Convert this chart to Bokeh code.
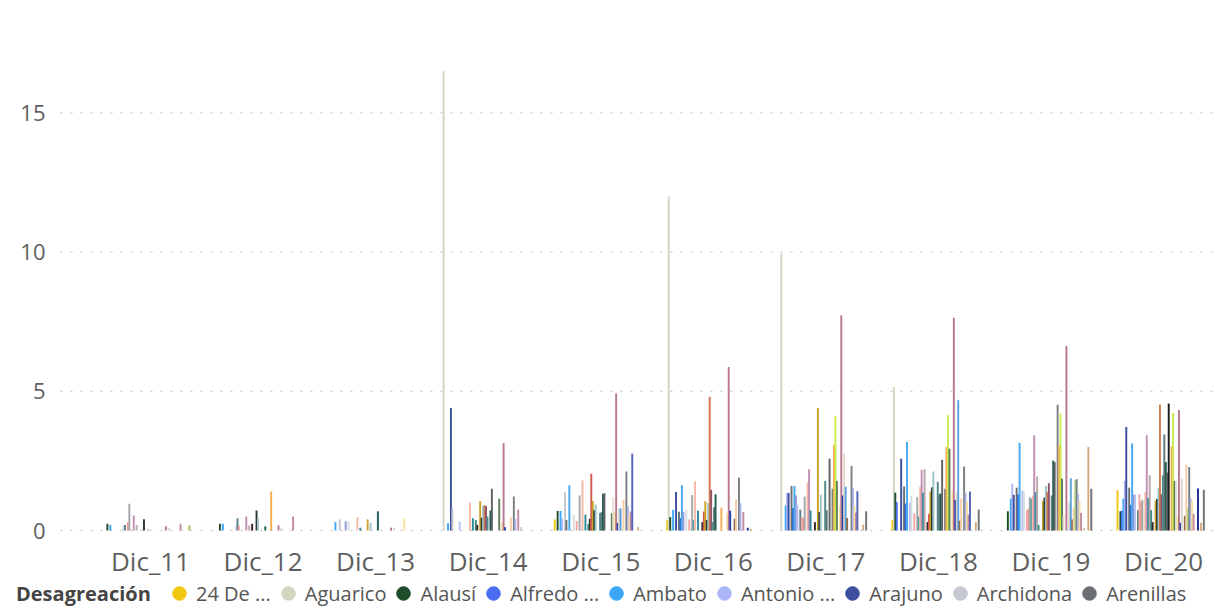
from bokeh.plotting import figure
from bokeh.models import Range1d, Legend, LegendItem, ColumnDataSource
from bokeh.core.properties import value
from bokeh.embed import file_html
from bokeh.resources import INLINE

years = ["Dic_11", "Dic_12", "Dic_13", "Dic_14", "Dic_15",
         "Dic_16", "Dic_17", "Dic_18", "Dic_19", "Dic_20"]

y_ticks = [0, 5, 10, 15]
y_tick_labels = ["0", "5", "10", "15"]

series = [
    "24 De Mayo", "Aguarico", "Alausí", "Alfredo Baquerizo Moreno", "Ambato",
    "Antonio Ante", "Arajuno", "Archidona", "Arenillas", "Atacames",
    "Atahualpa", "Azogues", "Baba", "Babahoyo", "Balao",
    "Balsas", "Balzar", "Baños de Agua Santa", "Biblián", "Bolívar",
    "Buena Fe", "Calvas", "Caluma", "Camilo Ponce Enríquez", "Cañar",
    "Carlos Julio Arosemena Tola", "Cascales", "Catamayo", "Cayambe", "Celica",
    "Centinela del Cóndor", "Cevallos", "Chaguarpamba", "Chambo", "Chilla",
    "Chillanes", "Chimbo", "Chinchipe", "Chone", "Chordeleg",
    "Chunchi", "Colimes", "Colta", "Coronel Marcelino Maridueña", "Cotacachi",
    "Cuenca", "Cumandá", "Cuyabeno", "Daule", "Déleg",
    "Durán", "Echeandía", "El Carmen", "El Chaco", "El Empalme",
    "El Guabo", "El Pan", "El Pangui", "El Tambo", "El Triunfo",
]

legend_title = "Desagreación"
legend_labels = ["24 De ...", "Aguarico", "Alausí", "Alfredo ...", "Ambato",
                 "Antonio ...", "Arajuno", "Archidona", "Arenillas"]

colors = [
    "#F2C80F", "#D4D5BF", "#1E4D2B", "#4A6CF0", "#3BA8F7",
    "#AAB6F8", "#3C4E9C", "#C5C8D0", "#6B6E72", "#2F6FD8",
    "#45A9F2", "#8C9BD8", "#B5C1EE", "#D9DDE6", "#5A7F86",
    "#F4A7A2", "#F09A90", "#A5A7A9", "#4FA2A5", "#F7B9A5",
    "#C28FB3", "#2C8C9C", "#BCA6AC", "#3E8E82", "#3A2626",
    "#D25A50", "#C9A227", "#2B3B33", "#9DC5C9", "#D0784E",
    "#8F5468", "#4E8A8E", "#5E7A74", "#1F5E52", "#5F6264",
    "#1B1B1B", "#7E8183", "#F6AE4F", "#C8EC4E", "#5E7D5A",
    "#E9DDD2", "#F8E4A2", "#B87891", "#2840A8", "#E0D6CC",
    "#5AA3DC", "#8A6C4C", "#F6CFA8", "#B6D98A", "#7C7F81",
    "#A9B3EA", "#F7E0A0", "#C48BA0", "#5464B8", "#D9C9B4",
    "#1A2A9A", "#E7E0D8", "#D4A97E", "#A7B85A", "#6E7173",
]

dic_11 = [0, 0, 0.24, 0, 0.2, 0, 0, 0, 0, 0,
          0, 0, 0, 0.18, 0.2, 0, 0.3, 0.96, 0, 0,
          0.54, 0, 0.2, 0, 0, 0, 0, 0.4, 0, 0,
          0.03, 0, 0, 0, 0, 0, 0, 0, 0, 0,
          0, 0, 0.15, 0, 0.1, 0, 0, 0, 0, 0,
          0, 0, 0.24, 0, 0, 0, 0, 0, 0.18, 0]
dic_12 = [0, 0, 0.24, 0, 0.24, 0, 0, 0, 0, 0,
          0, 0, 0, 0.18, 0.44, 0.18, 0, 0, 0, 0,
          0.5, 0, 0.18, 0, 0.24, 0, 0, 0.72, 0.44, 0,
          0, 0, 0, 0.15, 0, 0, 0, 1.4, 0, 0,
          0, 0, 0.18, 0, 0.1, 0, 0, 0, 0, 0,
          0, 0, 0.5, 0, 0, 0, 0, 0, 0, 0]
dic_13 = [0, 0, 0, 0, 0.3, 0, 0, 0.4, 0, 0,
          0, 0.33, 0, 0.33, 0, 0, 0, 0, 0, 0.48,
          0, 0.1, 0, 0, 0, 0, 0.4, 0, 0.28, 0,
          0, 0, 0, 0.69, 0, 0, 0, 0, 0, 0,
          0, 0, 0.1, 0, 0.1, 0, 0, 0, 0, 0,
          0, 0.44, 0, 0, 0, 0, 0, 0, 0, 0]
dic_14 = [0, 16.5, 0, 0, 0.26, 0, 4.4, 0.8, 0, 0,
          0, 0, 0.32, 0, 0, 0, 0, 0, 0, 1.0,
          0, 0.44, 0, 0.38, 0.2, 0, 1.06, 0.46, 0.9, 0.9,
          0.88, 0.5, 0, 0.72, 1.5, 0, 0, 0, 0, 1.14,
          0, 0.3, 3.14, 0.12, 0, 0, 0, 0.47, 0, 1.22,
          0.42, 0, 0.75, 0, 0.12, 0, 0, 0, 0, 0]
dic_15 = [0.4, 0, 0.7, 0, 0.7, 0.42, 0, 1.39, 0.38, 0,
          1.62, 0, 0, 0.57, 0, 0.34, 0, 1.26, 0, 1.8,
          0, 0.57, 0, 0.24, 0.42, 2.04, 1.06, 0.73, 0.93, 0,
          0, 0.63, 0.66, 1.32, 1.34, 0, 0, 0, 0, 0.62,
          1.2, 0.66, 4.92, 0.27, 0.78, 0.8, 0, 1.1, 0, 2.12,
          0.87, 0.54, 0.68, 2.76, 0, 0, 0, 0.12, 0, 0]
dic_16 = [0.38, 12.0, 0.48, 0, 0.74, 0, 1.38, 0, 0.67, 0.45,
          1.63, 0.66, 0, 0.74, 0, 0.4, 0, 1.27, 0.38, 1.77,
          0, 0.71, 0, 0, 0.3, 0.68, 1.05, 0.38, 0.98, 4.8,
          1.46, 0.3, 0.83, 1.3, 0, 0, 0, 0.82, 0, 0,
          0, 0.63, 5.87, 0.71, 0, 0, 0.42, 1.12, 0, 1.9,
          0.98, 0, 0.67, 0, 0, 0.1, 0, 0.06, 0, 0]
dic_17 = [0, 9.95, 0, 0, 0.9, 1.35, 1.35, 0, 1.6, 0.81,
          1.6, 1.26, 0.93, 0, 0.75, 0.48, 0.45, 1.22, 0, 1.73,
          2.2, 0.72, 0, 0, 0.3, 0, 4.4, 0.66, 1.29, 0,
          0, 1.78, 0.73, 0, 2.58, 0, 1.5, 3.08, 4.1, 1.78,
          0, 0.9, 7.73, 1.26, 2.78, 1.57, 0.45, 0, 0, 2.32,
          1.52, 0.9, 0.64, 1.41, 0, 0, 0, 0.21, 0, 0.69]
dic_18 = [0.38, 5.15, 1.36, 1.02, 0, 0, 2.58, 0, 1.58, 0.97,
          3.18, 0, 1.0, 1.25, 0, 0.62, 0, 1.2, 0.5, 1.57,
          2.18, 1.36, 2.2, 0, 0.3, 0.6, 1.4, 1.55, 2.12, 0,
          0, 1.75, 1.3, 1.33, 2.54, 0, 1.5, 3.0, 4.14, 2.94,
          0, 1.43, 7.64, 1.1, 1.38, 4.68, 0.35, 1.15, 0, 2.3,
          1.35, 1.05, 0.57, 1.4, 0, 0, 0, 0.3, 0, 0.75]
dic_19 = [0, 0, 0.69, 0, 1.14, 1.68, 1.28, 0, 1.54, 1.3,
          3.15, 0, 1.43, 1.4, 0, 0.72, 0.78, 1.2, 1.14, 1.26,
          3.42, 1.38, 1.94, 0.2, 0, 0, 1.06, 1.18, 1.6, 1.38,
          1.7, 0, 1.26, 2.51, 2.46, 0, 4.52, 3.06, 4.2, 1.86,
          0.54, 0, 6.63, 0, 1.0, 1.88, 0.4, 0.82, 1.8, 1.84,
          1.31, 1.07, 0.63, 0, 0.1, 0, 0, 3.0, 0, 1.5]
dic_20 = [1.45, 0, 0.69, 0.71, 1.14, 1.78, 3.72, 0, 1.54, 0.92,
          3.13, 1.29, 1.29, 0, 0.73, 1.3, 1.04, 1.1, 0, 1.38,
          3.42, 1.17, 1.98, 0.73, 0.3, 0, 1.07, 1.14, 1.54, 4.52,
          1.3, 1.98, 3.45, 2.46, 2.08, 4.56, 0, 3.02, 4.22, 1.78,
          1.78, 0.5, 4.33, 0.28, 1.86, 0, 0.53, 2.38, 0.8, 2.28,
          1.16, 1.06, 0.6, 0, 0, 1.51, 0, 0.28, 0, 1.46]

year_values = [dic_11, dic_12, dic_13, dic_14, dic_15,
               dic_16, dic_17, dic_18, dic_19, dic_20]

# ---- layout (pixels of the 1215 x 610 canvas) ----
W, H = 1215, 610
PX_PER_CAT = 112.56          # horizontal pixels per category
FIRST_CAT_PX = 150           # centre of first category
PX_PER_UNIT = 27.84          # vertical pixels per value unit
ZERO_PX = 530                # y of value 0 (from top)
x_start = -FIRST_CAT_PX / PX_PER_CAT
x_end = x_start + W / PX_PER_CAT
y_end = ZERO_PX / PX_PER_UNIT
y_start = -(H - ZERO_PX) / PX_PER_UNIT

# cluster layout (category units)
group_start = -0.409
slot = 0.0130
bar_w = 0.0172

xs, tops, cols, names, yrs = [], [], [], [], []
for i, vals in enumerate(year_values):
    for j, v in enumerate(vals):
        if v > 0:
            xs.append(i + group_start + j * slot)
            tops.append(v)
            cols.append(colors[j])
            names.append(series[j])
            yrs.append(years[i])
src = ColumnDataSource(dict(x=xs, top=tops, color=cols, name=names, year=yrs))

FONT = "Open Sans"

p = figure(width=W, height=H, output_backend="svg", toolbar_location=None,
           x_range=Range1d(x_start, x_end), y_range=Range1d(y_start, y_end),
           x_axis_location=None, y_axis_location=None,
           min_border_left=0, min_border_right=0, min_border_top=0,
           min_border_bottom=0, background_fill_color="white",
           border_fill_color="white")
p.outline_line_color = None
for g in p.grid:
    g.visible = False

# dotted horizontal gridlines (start right of the value labels)
grid_x0 = x_start + 60 / PX_PER_CAT
p.segment(x0=[grid_x0] * len(y_ticks), x1=[x_end] * len(y_ticks),
          y0=y_ticks, y1=y_ticks, line_color="#BDBDBD", line_width=1,
          line_dash="2 8")

# bars
p.vbar(x="x", top="top", bottom=0, width=bar_w, fill_color="color",
       line_color=None, source=src)

# value axis labels
p.text(x=[x_start + 45 / PX_PER_CAT] * len(y_ticks), y=y_ticks, text=y_tick_labels,
       text_align="right", text_baseline="middle",
       text_font=value(FONT), text_font_size=value("22px"), text_color="#5F5F5F")

# category axis labels
p.text(x=list(range(len(years))), y=[-30 / PX_PER_UNIT] * len(years), text=years,
       text_align="center", text_baseline="alphabetic",
       text_font=value(FONT), text_font_size=value("26px"), text_color="#5F5F5F")

# legend
title_r = p.scatter(x=[xs[0]], y=[tops[0]], size=1, visible=False)
leg_title = Legend(items=[LegendItem(label=value(legend_title), renderers=[title_r])],
                   location=(16, 0), orientation="horizontal",
                   glyph_width=0, glyph_height=34, label_standoff=0,
                   padding=0, margin=0, border_line_color=None,
                   background_fill_alpha=0,
                   label_text_font=FONT, label_text_font_size="20px",
                   label_text_font_style="bold", label_text_color="#444444")
p.add_layout(leg_title, "center")

items = []
for j, lab in enumerate(legend_labels):
    sx = [i + group_start + j * slot for i in range(len(years))]
    sy = [vals[j] for vals in year_values]
    r = p.scatter(x=sx, y=sy, marker="circle", size=10,
                  fill_color=colors[j], line_color=colors[j], visible=False)
    items.append(LegendItem(label=value(lab), renderers=[r]))
leg = Legend(items=items, location=(162, 0), orientation="horizontal",
             glyph_width=34, glyph_height=34, label_standoff=0, spacing=0,
             padding=0, margin=0, border_line_color=None,
             background_fill_alpha=0,
             label_text_font=FONT, label_text_font_size="20px",
             label_text_color="#555555")
p.add_layout(leg, "center")

open("out.html", "w").write(file_html(p, INLINE))
